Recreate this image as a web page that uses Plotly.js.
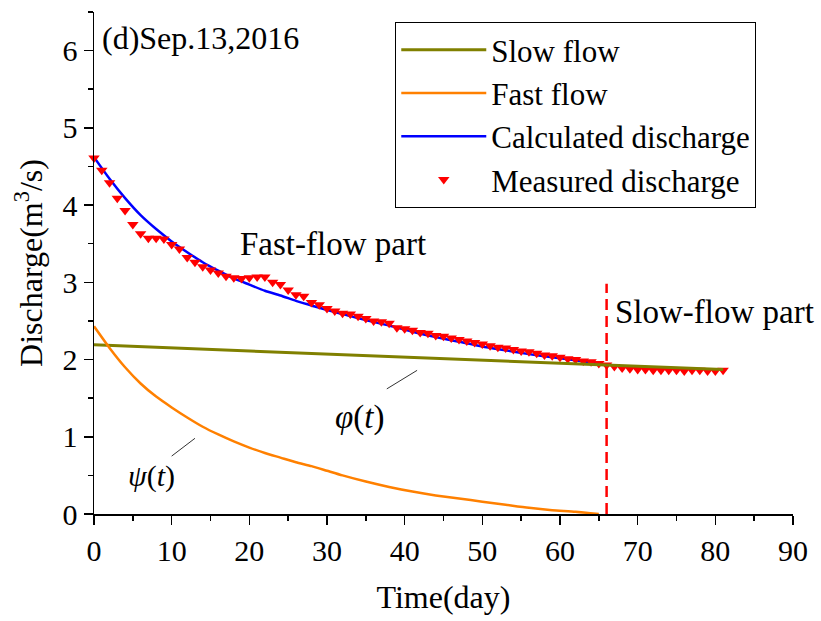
<!DOCTYPE html>
<html>
<head>
<meta charset="utf-8">
<script src="https://cdn.plot.ly/plotly-3.0.1.min.js"></script>
<style>html,body{margin:0;padding:0;background:#fff;}#chart{width:821px;height:621px;}</style>
</head>
<body>
<div id="chart"></div>
<script>
// ---- data ----
var measuredT = [0,1,2,3,4,5,6,7,8,9,10,11,12,13,14,15,16,17,18,19,20,21,22,23,24,25,26,27,28,29,30,31,32,33,34,35,36,37,38,39,40,41,42,43,44,45,46,47,48,49,50,51,52,53,54,55,56,57,58,59,60,61,62,63,64,65,66,67,68,69,70,71,72,73,74,75,76,77,78,79,80,81];
var measuredQ = [4.61,4.45,4.29,4.09,3.93,3.75,3.63,3.57,3.57,3.56,3.49,3.43,3.32,3.26,3.20,3.16,3.12,3.08,3.06,3.05,3.06,3.07,3.07,3.00,2.97,2.90,2.84,2.82,2.74,2.71,2.66,2.63,2.60,2.59,2.56,2.53,2.50,2.49,2.47,2.41,2.40,2.38,2.35,2.34,2.31,2.30,2.28,2.26,2.24,2.22,2.20,2.18,2.16,2.15,2.13,2.11,2.10,2.08,2.06,2.05,2.03,2.01,2.00,1.98,1.97,1.95,1.93,1.91,1.89,1.88,1.87,1.87,1.86,1.86,1.86,1.86,1.85,1.86,1.86,1.85,1.85,1.86];

var calcT = [0,2,4,6,8,10,12,14,16,18,20,22,24,26,28,30,32,35,38,41,44,47,50,53,56,59,62,66];
var calcQ = [4.62,4.34,4.09,3.87,3.69,3.53,3.39,3.26,3.15,3.05,2.97,2.89,2.83,2.76,2.70,2.64,2.59,2.51,2.44,2.36,2.29,2.23,2.17,2.12,2.07,2.03,1.99,1.93];

var slowT = [0,10,20,30,40,50,60,70,81];
var slowQ = [2.19,2.15,2.11,2.07,2.03,1.99,1.95,1.91,1.87];

var fastT = [0,2,4,6,8,10,12,14,16,18,20,22,24,26,28,30,32,35,38,41,44,47,50,53,56,59,62,65];
var fastQ = [2.43,2.15,1.90,1.69,1.52,1.38,1.25,1.13,1.03,0.94,0.86,0.79,0.73,0.67,0.62,0.56,0.50,0.42,0.35,0.29,0.24,0.20,0.16,0.12,0.08,0.05,0.03,0.0];

var splitDay = 66;
var splitTop = 2.98;

var xTicks = [0,10,20,30,40,50,60,70,80,90];
var yTicks = [0,1,2,3,4,5,6];

var FONT = '"Liberation Serif", "Times New Roman", serif';

var traces = [
  {x: calcT, y: calcQ, name: 'Calculated discharge', type: 'scatter', mode: 'lines',
   line: {color: '#0000FF', width: 2.5, shape: 'spline', smoothing: 0.6}, legendrank: 3},
  {x: measuredT, y: measuredQ, name: 'Measured discharge', type: 'scatter', mode: 'markers',
   marker: {symbol: 'triangle-down', color: '#FF0000', size: 10}, cliponaxis: false, legendrank: 4},
  {x: slowT, y: slowQ, name: 'Slow flow', type: 'scatter', mode: 'lines',
   line: {color: '#808000', width: 3}, legendrank: 1},
  {x: fastT, y: fastQ, name: 'Fast flow', type: 'scatter', mode: 'lines',
   line: {color: '#FF8000', width: 2.5, shape: 'spline', smoothing: 0.6}, legendrank: 2}
];

var layout = {
  width: 821, height: 621,
  paper_bgcolor: '#fff', plot_bgcolor: '#fff',
  margin: {l: 94, r: 28, t: 12, b: 107},
  font: {family: FONT, size: 30, color: '#000'},
  showlegend: true,
  legend: {x: 0.431, y: 0.98, xanchor: 'left', yanchor: 'top',
    bordercolor: '#000', borderwidth: 1, bgcolor: '#fff',
    font: {family: FONT, size: 31, color: '#000'}, itemwidth: 85, tracegroupgap: 0},
  xaxis: {range: [0, 90], tickvals: xTicks, ticktext: xTicks.map(String),
    showgrid: false, zeroline: false, showline: true, linecolor: '#000', linewidth: 1.5,
    ticks: 'outside', ticklen: 9, tickwidth: 1.5, tickcolor: '#000',
    minor: {dtick: 5, ticks: 'outside', ticklen: 5, tickwidth: 1.5, tickcolor: '#000'},
    tickfont: {family: FONT, size: 30}, mirror: false,
    title: {text: 'Time(day)', font: {family: FONT, size: 32}, standoff: 20}},
  yaxis: {range: [0, 6.5], tickvals: yTicks, ticktext: yTicks.map(String),
    showgrid: false, zeroline: false, showline: true, linecolor: '#000', linewidth: 1.5,
    ticks: 'outside', ticklen: 9, tickwidth: 1.5, tickcolor: '#000',
    minor: {dtick: 0.5, ticks: 'outside', ticklen: 5, tickwidth: 1.5, tickcolor: '#000'},
    tickfont: {family: FONT, size: 30}, mirror: false,
    title: {text: 'Discharge(m<sup>3</sup>/s)', font: {family: FONT, size: 32}, standoff: 10}},
  shapes: [
    {type: 'line', xref: 'x', yref: 'y', x0: splitDay, x1: splitDay, y0: 0, y1: splitTop,
     line: {color: '#FF0000', width: 2.5, dash: '11px,6px'}},
    {type: 'line', xref: 'x', yref: 'y', x0: 37.7, y0: 1.62, x1: 41.6, y1: 1.86,
     line: {color: '#333', width: 1}},
    {type: 'line', xref: 'x', yref: 'y', x0: 10.0, y0: 0.75, x1: 13.0, y1: 0.98,
     line: {color: '#333', width: 1}}
  ],
  annotations: [
    {x: 0.8, y: 6.16, xref: 'x', yref: 'y', text: '(d)Sep.13,2016', showarrow: false,
     xanchor: 'left', yanchor: 'middle', font: {family: FONT, size: 32}},
    {x: 18.5, y: 3.49, xref: 'x', yref: 'y', text: 'Fast-flow part', showarrow: false,
     xanchor: 'left', yanchor: 'middle', font: {family: FONT, size: 33}},
    {x: 66.8, y: 2.61, xref: 'x', yref: 'y', text: 'Slow-flow part', showarrow: false,
     xanchor: 'left', yanchor: 'middle', font: {family: FONT, size: 33}},
    {x: 34.2, y: 1.25, xref: 'x', yref: 'y', text: '<i>φ</i>(<i>t</i>)', showarrow: false,
     xanchor: 'center', yanchor: 'middle', font: {family: FONT, size: 33}},
    {x: 7.4, y: 0.49, xref: 'x', yref: 'y', text: '<i>ψ</i>(<i>t</i>)', showarrow: false,
     xanchor: 'center', yanchor: 'middle', font: {family: FONT, size: 30}}
  ]
};

Plotly.newPlot('chart', traces, layout, {displayModeBar: false, staticPlot: true});
</script>
</body>
</html>
